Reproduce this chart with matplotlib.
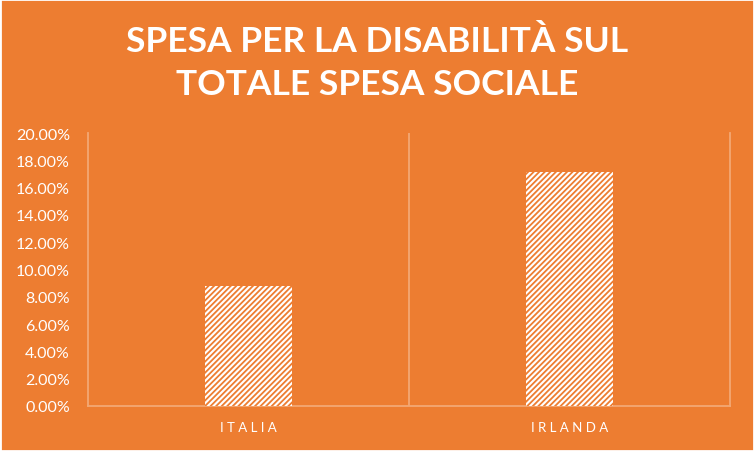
import numpy as np
import matplotlib.pyplot as plt
from matplotlib.ticker import FuncFormatter

categories = ['ITALIA', 'IRLANDA']
values = [0.0879, 0.1714]
y_ticks = np.arange(0, 0.2001, 0.02)

orange = '#ED7D31'
grid_col = '#F3A874'

plt.rcParams['font.family'] = ['Lato', 'DejaVu Sans']
plt.rcParams['hatch.linewidth'] = 1.3

fig = plt.figure(figsize=(7.54, 4.52), dpi=100, facecolor=orange)
ax = fig.add_axes([88/754, 1-407/452, (730-88)/754, (407-134)/452])
ax.set_facecolor(orange)

x = np.arange(len(categories))
ax.bar(x, values, width=0.27, color='white', edgecolor=orange, linewidth=0, hatch='//////', zorder=3)

ax.set_xlim(-0.5, 1.5)
ax.set_ylim(0, 0.20)
ax.set_yticks(y_ticks)
ax.yaxis.set_major_formatter(FuncFormatter(lambda v, p: '{:.2f}%'.format(v*100)))
ax.tick_params(axis='y', length=0, pad=13, labelsize=11.5, labelcolor='white')
ax.set_xticks(x)
ax.set_xticklabels([' '.join(c) for c in categories], fontsize=9.5, color='white')
ax.tick_params(axis='x', length=0, pad=11)

ax.axvline(0.5, color=grid_col, linewidth=1.3, zorder=1)
for side in ['left', 'right', 'bottom']:
    ax.spines[side].set_color(grid_col)
    ax.spines[side].set_linewidth(1.3)
ax.spines['top'].set_visible(False)

fig.text(0.5, 1-42/452, 'SPESA PER LA DISABILITÀ SUL', ha='center', va='center',
         fontsize=25.5, fontweight='bold', color='white')
fig.text(0.5, 1-85/452, 'TOTALE SPESA SOCIALE', ha='center', va='center',
         fontsize=25.5, fontweight='bold', color='white')

fig.patches.append(plt.Rectangle((0, 0), 1, 1, transform=fig.transFigure, fill=False,
                                 edgecolor='white', linewidth=2))

fig.savefig('out.png', dpi=100, facecolor=orange)
